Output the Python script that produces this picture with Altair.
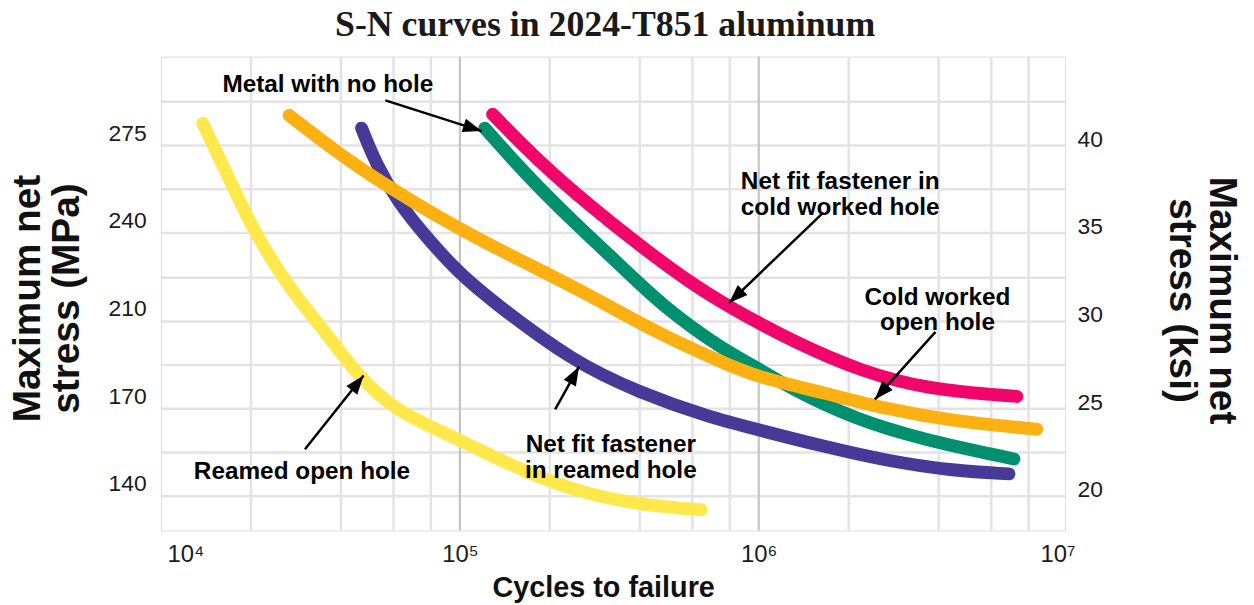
import math
import altair as alt
import pandas as pd

# ---------------- data (cycles to failure, maximum net stress in ksi) ----------------
series_names = [
    "Net fit fastener in reamed hole",
    "Metal with no hole",
    "Reamed open hole",
    "Cold worked open hole",
    "Net fit fastener in cold worked hole",
]
series_colors = ["#463A98", "#00906F", "#FFE84C", "#FDB012", "#F0066B"]

reamed_fast_n = [46900, 52200, 62230, 76500, 98480, 126800, 241100, 399200, 666700, 977500, 1632000, 2704000, 4514000, 6874000]
reamed_fast_k = [40.98, 38.99, 36.72, 34.85, 32.76, 31.17, 27.60, 25.90, 24.54, 23.80, 22.83, 21.98, 21.42, 21.25]

no_hole_n = [121100, 164400, 241100, 353400, 472500, 759300, 977500, 1258000, 2101000, 3506000, 7142000]
no_hole_k = [40.98, 38.42, 35.59, 32.98, 30.88, 28.33, 27.37, 26.18, 24.37, 23.23, 22.10]

reamed_open_n = [13790, 16570, 20220, 24850, 28960, 35610, 45830, 58990, 76500, 98480, 164400, 272400, 454800, 641800]
reamed_open_k = [41.26, 38.42, 35.25, 32.76, 31.17, 29.30, 26.80, 25.10, 24.08, 23.23, 21.36, 20.00, 19.38, 19.21]

cold_open_n = [26830, 40240, 58990, 86470, 114800, 164400, 272400, 454800, 759300, 977500, 1632000, 2704000, 4514000, 8516000]
cold_open_k = [41.71, 39.39, 37.52, 35.82, 34.68, 33.32, 31.45, 29.30, 27.60, 26.80, 25.90, 24.93, 24.25, 23.80]

cold_fast_n = [128700, 185800, 272400, 399200, 585500, 795000, 1327000, 2215000, 3671000, 7308000]
cold_fast_k = [41.77, 38.99, 36.55, 34.29, 32.19, 30.77, 28.73, 27.09, 26.07, 25.67]

series_n = [reamed_fast_n, no_hole_n, reamed_open_n, cold_open_n, cold_fast_n]
series_k = [reamed_fast_k, no_hole_k, reamed_open_k, cold_open_k, cold_fast_k]

# annotations
ann_text = [
    "Metal with no hole",
    "Net fit fastener in\ncold worked  hole",
    "Cold worked\nopen hole",
    "Net fit fastener\nin reamed hole",
    "Reamed open hole",
]
ann_n = [36150, 1873000, 3963000, 319900, 29630]
ann_k = [43.41, 37.89, 31.31, 22.89, 21.36]
arrow_n1 = [56340, 1644000, 3903000, 208400, 30310]
arrow_k1 = [42.56, 36.16, 29.35, 24.93, 22.66]
arrow_n2 = [118350, 795000, 2447000, 250400, 47620]
arrow_k2 = [40.81, 31.00, 25.50, 27.37, 26.86]

# axes / grid
x_domain = [10000, 10600000]
y_domain = [18.016, 45.06]
x_tick_vals = [10000, 100000, 1000000, 10000000]
x_tick_labels = ["10\u2074", "10\u2075", "10\u2076", "10\u2077"]
minor_grid_n = [20000, 40000, 60000, 80000, 200000, 400000, 600000, 800000,
                2000000, 4000000, 6000000, 8000000]
major_grid_n = [100000, 1000000]
grid_ksi = [20, 22.5, 25, 27.5, 30, 32.5, 35, 37.5, 40, 42.5]
left_label_ksi = [20, 25, 30, 35, 40]
left_labels = ["140", "170", "210", "240", "275"]
right_label_ksi = [20, 25, 30, 35, 40]

W, H = 910, 477
FONT = "Liberation Sans"

# ---------------- encodings ----------------
def lookup_expr(vals, labels, default="''"):
    expr = default
    for v, l in reversed(list(zip(vals, labels))):
        expr = f"datum.value == {v} ? '{l}' : ({expr})"
    return expr

xscale = alt.Scale(type="log", domain=x_domain, nice=False)
yscale = alt.Scale(domain=y_domain, nice=False, zero=False)

x_axis = alt.Axis(
    title="Cycles to failure", values=x_tick_vals,
    labelExpr=lookup_expr(x_tick_vals, x_tick_labels, "''"),
    grid=False, ticks=False, domain=False,
    labelFont=FONT, labelFontSize=24, labelColor="#1a1a1a", labelPadding=12,
    labelAlign={"condition": {"test": "datum.value <= 10000", "value": "left"}, "value": "center"},
    labelOffset={"condition": {"test": "datum.value <= 10000", "value": 6}, "value": 0},
    titleFont=FONT, titleFontSize=29, titleFontWeight="bold", titleColor="#111",
    titleX=445, titleY=66, titleAlign="center", titleBaseline="alphabetic",
)
left_axis = alt.Axis(
    title=["Maximum net", "stress (MPa)"], values=grid_ksi,
    labelExpr=lookup_expr(left_label_ksi, left_labels, "''"),
    grid=True, gridColor="#E3E3E3", gridWidth=2.5,
    ticks=False, domain=False,
    labelFont=FONT, labelFontSize=23, labelColor="#1a1a1a", labelPadding=15, labelOffset=-12,
    titleFont=FONT, titleFontSize=39, titleFontWeight="bold", titleColor="#111",
    titleAngle=270, titleAlign="center", titleBaseline="middle",
    titleX=-134, titleY=243, titleLineHeight=39,
)
right_axis = alt.Axis(
    title=["Maximum net", "stress (ksi)"], values=right_label_ksi, format="d", orient="right",
    grid=False, ticks=False, domain=False,
    labelFont=FONT, labelFontSize=23, labelColor="#1a1a1a", labelPadding=12, labelOffset=-6,
    titleFont=FONT, titleFontSize=39, titleFontWeight="bold", titleColor="#111",
    titleAngle=90, titleAlign="center", titleBaseline="middle",
    titleX=157, titleY=245, titleLineHeight=40,
)

X = lambda f: alt.X(f"{f}:Q", scale=xscale, axis=x_axis)
Y = lambda f: alt.Y(f"{f}:Q", scale=yscale, axis=left_axis)

# ---------------- layers ----------------
minor_grid = alt.Chart(pd.DataFrame({"n": minor_grid_n})).mark_rule(
    color="#E3E3E3", strokeWidth=2.5).encode(x=X("n"))
major_grid = alt.Chart(pd.DataFrame({"n": major_grid_n})).mark_rule(
    color="#C4C4C4", strokeWidth=2.2).encode(x=X("n"))

curve_layers = []
for name, color, ns, ks in zip(series_names, series_colors, series_n, series_k):
    df = pd.DataFrame({"n": ns, "k": ks, "series": name})
    curve_layers.append(
        alt.Chart(df).mark_line(color=color, strokeWidth=13, strokeCap="round",
                                strokeJoin="round", interpolate="basis")
        .encode(x=X("n"), y=Y("k"), order=alt.Order("n:Q"))
    )

# arrows
dec_px = W / (math.log10(x_domain[1]) - math.log10(x_domain[0]))
ksi_px = H / (y_domain[1] - y_domain[0])
angles = []
for n1, k1, n2, k2 in zip(arrow_n1, arrow_k1, arrow_n2, arrow_k2):
    dx = (math.log10(n2) - math.log10(n1)) * dec_px
    dy = -(k2 - k1) * ksi_px
    angles.append(math.degrees(math.atan2(dx, -dy)) % 360)

arrow_df = pd.DataFrame({"n1": arrow_n1, "k1": arrow_k1, "n2": arrow_n2, "k2": arrow_k2, "ang": angles})
arrow_lines = alt.Chart(arrow_df).mark_rule(color="black", strokeWidth=2.5).encode(
    x=X("n1"), y=Y("k1"), x2="n2:Q", y2="k2:Q")
arrow_heads = alt.Chart(arrow_df).mark_point(
    shape="M0,0L-0.7,1.9L0.7,1.9Z", size=400, filled=True, color="black", opacity=1, strokeWidth=0
).encode(x=X("n2"), y=Y("k2"), angle=alt.Angle("ang:Q", scale=None))

ann_df = pd.DataFrame({"n": ann_n, "k": ann_k, "t": ann_text})
ann = alt.Chart(ann_df).mark_text(
    font=FONT, fontSize=24.5, fontWeight="bold", color="black",
    align="center", baseline="middle", lineBreak="\n", lineHeight=26,
).encode(x=X("n"), y=Y("k"), text="t:N")

left = alt.layer(minor_grid, major_grid, *curve_layers, arrow_lines, arrow_heads, ann)

right = alt.Chart(pd.DataFrame({"k": right_label_ksi})).mark_point(opacity=0).encode(
    y=alt.Y("k:Q", scale=alt.Scale(domain=y_domain, nice=False, zero=False), axis=right_axis))

chart = alt.layer(left, right).resolve_scale(y="independent").properties(
    width=W, height=H,
    autosize=alt.AutoSizeParams(type="none"),
    padding={"left": 154, "top": 47, "right": 182, "bottom": 73},
    title=alt.TitleParams(
        text="S-N curves in 2024-T851 aluminum", font="Liberation Serif", fontSize=36,
        fontWeight="bold", color="#1a1a1a", anchor="middle", frame="group",
        baseline="top", offset=12, dx=-8,
    ),
).configure_view(stroke="black", strokeWidth=2.5).configure(background="white")

chart.save("out.html", embed_options={"renderer": "svg", "actions": False})
